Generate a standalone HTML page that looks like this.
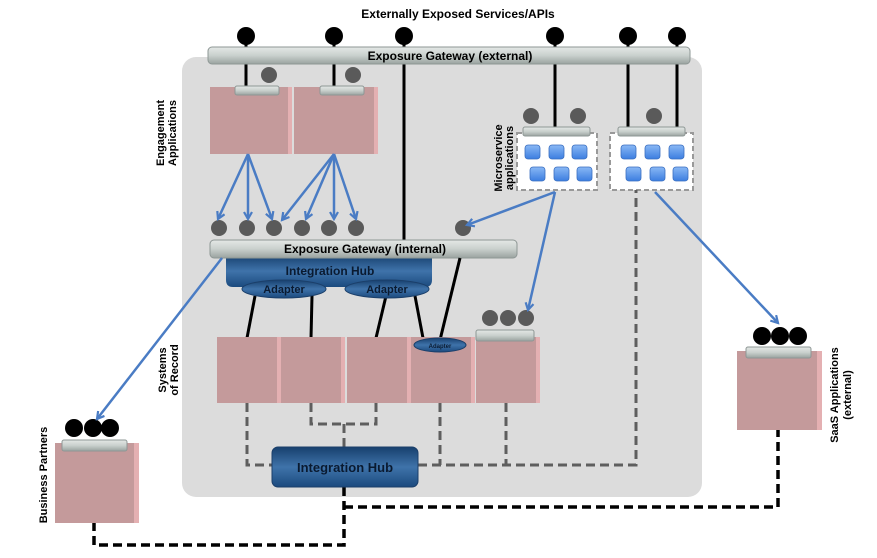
<!DOCTYPE html>
<html><head><meta charset="utf-8"><style>
html,body{margin:0;padding:0;background:#fff;}
svg{display:block;font-family:"Liberation Sans",Arial,sans-serif;font-weight:bold;}
</style></head><body>
<svg width="877" height="558" viewBox="0 0 877 558" xmlns="http://www.w3.org/2000/svg">
<defs>
<linearGradient id="bar" x1="0" y1="0" x2="0" y2="1"><stop offset="0" stop-color="#e4e8e6"/><stop offset="0.5" stop-color="#c9d0cd"/><stop offset="1" stop-color="#9aa3a0"/></linearGradient>
<linearGradient id="hub" x1="0" y1="0" x2="0" y2="1"><stop offset="0" stop-color="#17406e"/><stop offset="0.5" stop-color="#3f73aa"/><stop offset="1" stop-color="#1b4a7e"/></linearGradient>
<linearGradient id="sq" x1="0" y1="0" x2="0" y2="1"><stop offset="0" stop-color="#8ab8f5"/><stop offset="1" stop-color="#3c7ee0"/></linearGradient>
<marker id="ar" markerWidth="10" markerHeight="10" refX="8" refY="5" orient="auto" markerUnits="userSpaceOnUse"><path d="M1,1 L8,5 L1,9" fill="none" stroke="#4a7cc4" stroke-width="2.2"/></marker>
<g id="pbox"><rect x="0" y="0" width="60" height="66" fill="#c49a9b"/><rect x="60" y="0" width="4" height="66" fill="#e4b0b2"/></g>
</defs>
<text x="458" y="18" font-size="12" text-anchor="middle" fill="#000">Externally Exposed Services/APIs</text>
<rect x="182" y="57" width="520" height="440" rx="14" fill="#dcdcdc"/>

<g stroke="#000" stroke-width="3">
<line x1="246" y1="36" x2="246" y2="88"/><line x1="334" y1="36" x2="334" y2="88"/>
<line x1="404" y1="36" x2="404" y2="240"/><line x1="555" y1="36" x2="555" y2="128"/>
<line x1="628" y1="36" x2="628" y2="128"/><line x1="677" y1="36" x2="677" y2="128"/>
</g>
<g fill="#000"><circle cx="246" cy="36" r="9"/><circle cx="334" cy="36" r="9"/><circle cx="404" cy="36" r="9"/><circle cx="555" cy="36" r="9"/><circle cx="628" cy="36" r="9"/><circle cx="677" cy="36" r="9"/></g>
<rect x="208" y="47" width="482" height="17" rx="4" fill="url(#bar)" stroke="#8e9795"/>
<text x="450" y="60" font-size="12" text-anchor="middle">Exposure Gateway (external)</text>

<text transform="translate(164,133) rotate(-90)" font-size="11" text-anchor="middle">Engagement</text>
<text transform="translate(176,133) rotate(-90)" font-size="11" text-anchor="middle">Applications</text>
<g fill="#5a5a5a"><circle cx="269" cy="75" r="8"/><circle cx="353" cy="75" r="8"/></g>
<rect x="210" y="87" width="78" height="67" fill="#c49a9b"/><rect x="288" y="87" width="4" height="67" fill="#e4b0b2"/>
<rect x="294" y="87" width="80" height="67" fill="#c49a9b"/><rect x="374" y="87" width="4" height="67" fill="#e4b0b2"/>
<rect x="235" y="86" width="44" height="9" rx="2" fill="url(#bar)" stroke="#8e9795"/>
<rect x="320" y="86" width="44" height="9" rx="2" fill="url(#bar)" stroke="#8e9795"/>

<g fill="#5a5a5a"><circle cx="531" cy="116" r="8"/><circle cx="578" cy="116" r="8"/><circle cx="654" cy="116" r="8"/></g>
<rect x="517" y="133" width="80" height="57" fill="#fff" stroke="#999" stroke-width="2" stroke-dasharray="5,3"/>
<rect x="610" y="133" width="83" height="57" fill="#fff" stroke="#999" stroke-width="2" stroke-dasharray="5,3"/>
<text transform="translate(502,158) rotate(-90)" font-size="11" text-anchor="middle">Microservice</text>
<text transform="translate(513,158) rotate(-90)" font-size="11" text-anchor="middle">applications</text>
<rect x="523" y="127" width="67" height="9" rx="2" fill="url(#bar)" stroke="#8e9795"/>
<rect x="618" y="127" width="67" height="9" rx="2" fill="url(#bar)" stroke="#8e9795"/>
<g fill="url(#sq)" stroke="#3a6fc0" stroke-width="0.8">
<rect x="525" y="145" width="15" height="14" rx="3"/><rect x="549" y="145" width="15" height="14" rx="3"/><rect x="572" y="145" width="15" height="14" rx="3"/>
<rect x="530" y="167" width="15" height="14" rx="3"/><rect x="554" y="167" width="15" height="14" rx="3"/><rect x="577" y="167" width="15" height="14" rx="3"/>
<rect x="621" y="145" width="15" height="14" rx="3"/><rect x="645" y="145" width="15" height="14" rx="3"/><rect x="669" y="145" width="15" height="14" rx="3"/>
<rect x="626" y="167" width="15" height="14" rx="3"/><rect x="650" y="167" width="15" height="14" rx="3"/><rect x="673" y="167" width="15" height="14" rx="3"/>
</g>

<g fill="none" stroke="#5e5e5e" stroke-width="3" stroke-dasharray="9,5">
<polyline points="247,403 247,465 272,465"/>
<polyline points="311,403 311,424 376,424 376,403"/>
<line x1="344" y1="424" x2="344" y2="447"/>
<line x1="440" y1="403" x2="440" y2="465"/>
<line x1="506" y1="403" x2="506" y2="465"/>
<polyline points="418,465 636,465 636,190"/>
</g>
<g fill="none" stroke="#000" stroke-width="3.5" stroke-dasharray="9,5">
<polyline points="344,487 344,545 94,545 94,523"/>
<polyline points="344,507 778,507 778,430"/>
</g>

<g fill="#5a5a5a"><circle cx="219" cy="228" r="8"/><circle cx="247" cy="228" r="8"/><circle cx="274" cy="228" r="8"/><circle cx="302" cy="228" r="8"/><circle cx="329" cy="228" r="8"/><circle cx="356" cy="228" r="8"/><circle cx="463" cy="228" r="8"/></g>

<path d="M226,255 H432 V280 Q432,287 425,287 H233 Q226,287 226,280 Z" fill="url(#hub)"/>
<text x="330" y="275" font-size="12" text-anchor="middle" fill="#0a1a30">Integration Hub</text>
<rect x="210" y="240" width="307" height="18" rx="4" fill="url(#bar)" stroke="#8e9795"/>
<text x="365" y="253" font-size="12" text-anchor="middle">Exposure Gateway (internal)</text>

<g stroke="#000" stroke-width="3">
<line x1="255" y1="296" x2="247" y2="338"/><line x1="312" y1="296" x2="311" y2="338"/>
<line x1="386" y1="296" x2="376" y2="338"/><line x1="415" y1="296" x2="423" y2="338"/>
<line x1="460" y1="258" x2="440" y2="340"/>
</g>
<ellipse cx="284" cy="289" rx="42" ry="9" fill="url(#hub)" stroke="#1b3f6a"/>
<text x="284" y="293" font-size="11" text-anchor="middle" fill="#0a1a30">Adapter</text>
<ellipse cx="387" cy="289" rx="42" ry="9" fill="url(#hub)" stroke="#1b3f6a"/>
<text x="387" y="293" font-size="11" text-anchor="middle" fill="#0a1a30">Adapter</text>

<text transform="translate(166,370) rotate(-90)" font-size="11" text-anchor="middle">Systems</text>
<text transform="translate(178,370) rotate(-90)" font-size="11" text-anchor="middle">of Record</text>
<use href="#pbox" x="217" y="337"/><use href="#pbox" x="281" y="337"/><use href="#pbox" x="347" y="337"/><use href="#pbox" x="411" y="337"/><use href="#pbox" x="476" y="337"/>
<ellipse cx="440" cy="345" rx="26" ry="7" fill="url(#hub)" stroke="#1b3f6a"/>
<text x="440" y="348" font-size="6" text-anchor="middle" fill="#0a1a30">Adapter</text>
<g fill="#5a5a5a"><circle cx="490" cy="318" r="8"/><circle cx="508" cy="318" r="8"/><circle cx="526" cy="318" r="8"/></g>
<rect x="476" y="330" width="58" height="11" rx="2" fill="url(#bar)" stroke="#8e9795"/>

<rect x="272" y="447" width="146" height="40" rx="6" fill="url(#hub)" stroke="#1b3f6a"/>
<text x="345" y="472" font-size="13" text-anchor="middle" fill="#0a1a30">Integration Hub</text>

<text transform="translate(47,475) rotate(-90)" font-size="11" text-anchor="middle">Business Partners</text>
<g fill="#000"><circle cx="74" cy="428" r="9"/><circle cx="93" cy="428" r="9"/><circle cx="110" cy="428" r="9"/></g>
<rect x="55" y="443" width="79" height="80" fill="#c49a9b"/><rect x="134" y="443" width="5" height="80" fill="#e4b0b2"/>
<rect x="62" y="440" width="65" height="11" rx="2" fill="url(#bar)" stroke="#8e9795"/>

<g fill="#000"><circle cx="762" cy="336" r="9"/><circle cx="780" cy="336" r="9"/><circle cx="798" cy="336" r="9"/></g>
<rect x="737" y="351" width="80" height="79" fill="#c49a9b"/><rect x="817" y="351" width="5" height="79" fill="#e4b0b2"/>
<rect x="746" y="347" width="65" height="11" rx="2" fill="url(#bar)" stroke="#8e9795"/>
<text transform="translate(838,395) rotate(-90)" font-size="11" text-anchor="middle">SaaS Applications</text>
<text transform="translate(851,395) rotate(-90)" font-size="11" text-anchor="middle">(external)</text>

<g stroke="#4a7cc4" stroke-width="2.5" fill="none" marker-end="url(#ar)">
<line x1="248" y1="154" x2="218" y2="219"/><line x1="248" y1="154" x2="248" y2="219"/><line x1="248" y1="154" x2="272" y2="219"/>
<line x1="334" y1="154" x2="282" y2="220"/><line x1="334" y1="154" x2="306" y2="219"/><line x1="334" y1="154" x2="334" y2="219"/><line x1="334" y1="154" x2="356" y2="219"/>
<line x1="555" y1="192" x2="467" y2="225"/>
<line x1="555" y1="192" x2="528" y2="310"/>
<line x1="222" y1="258" x2="97" y2="419"/>
<line x1="655" y1="192" x2="778" y2="323"/>
</g>
</svg>
</body></html>
